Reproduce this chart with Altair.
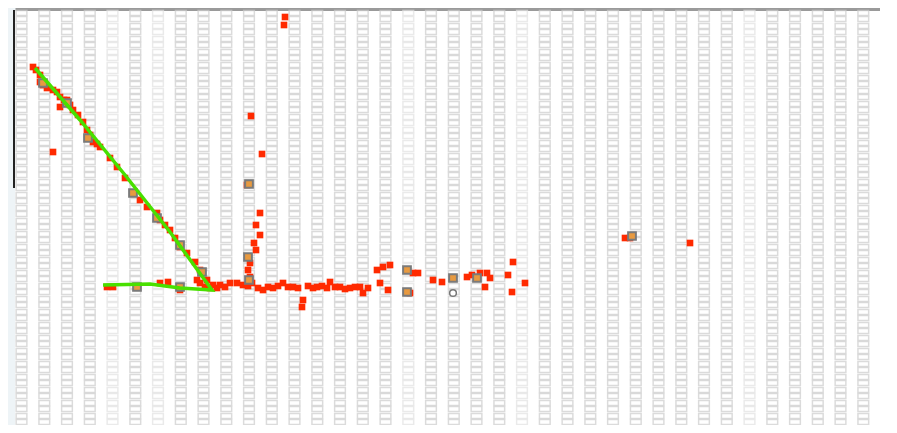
import altair as alt
import pandas as pd

# background lattice (image-unit positions)
grid_cols = [21.5, 44.3, 67, 89.8, 112.5, 135.3, 158, 180.8, 203.5, 226.3, 249, 271.8,
             294.5, 317.3, 340, 362.8, 385.5, 408.3, 431, 453.8, 476.5, 499.3, 522, 544.8,
             567.5, 590.3, 613, 635.8, 658.5, 681.3, 704, 726.8, 749.5, 772.3, 795, 817.8,
             840.5, 863.3]
col_tone = ["d", "d", "d", "d", "l", "d", "l", "d", "d", "d", "d", "d",
            "d", "d", "d", "d", "d", "l", "d", "d", "d", "d", "l", "d",
            "d", "d", "d", "d", "d", "d", "d", "d", "l", "d", "d", "d",
            "d", "d"]
grid_rows = [13, 19, 26, 32, 39, 45, 52, 58, 65, 71, 78, 84, 91, 97, 104, 110, 117, 123,
             130, 136, 143, 149, 156, 162, 169, 175, 182, 188, 195, 201, 208, 214, 221,
             227, 234, 240, 247, 253, 260, 266, 273, 279, 286, 292, 299, 305, 312, 318,
             325, 331, 338, 344, 351, 357, 364, 370, 377, 383, 390, 396, 403, 409, 416, 422]

red_x = [33, 36, 40, 40, 43, 47, 53, 57, 60, 60, 64, 67, 70, 73, 78, 83, 87, 90, 93, 97, 100,
         53, 110, 117, 125, 133, 140, 147, 157, 160, 165, 170, 175, 180, 187, 195, 200, 207,
         107, 113, 137, 160, 168, 180, 197, 200, 205, 210, 213, 217, 220, 225, 230, 237, 243, 248,
         285, 284, 251, 262, 247, 260, 256, 260, 254, 256, 250, 248, 250, 252,
         258, 263, 268, 273, 278, 283, 288, 293, 298, 303, 302, 308, 313, 317, 322, 327, 330,
         335, 340, 345, 350, 355, 360, 363, 368, 377, 383, 390, 380, 388, 413, 418, 410, 433,
         442, 467, 472, 480, 487, 485, 490, 508, 513, 512, 525,
         625, 630, 690]
red_y = [67, 70, 75, 82, 85, 88, 90, 92, 97, 107, 100, 100, 105, 110, 115, 122, 130, 135, 142, 144, 147,
         152, 158, 167, 178, 193, 200, 207, 213, 220, 225, 230, 238, 247, 253, 262, 270, 280,
         287, 287, 287, 283, 282, 290, 280, 283, 287, 288, 285, 288, 285, 287, 283, 283, 285, 286,
         17, 25, 116, 154, 185, 213, 225, 235, 243, 250, 263, 270, 277, 283,
         288, 290, 287, 288, 286, 283, 287, 287, 288, 300, 307, 286, 288, 287, 286, 288, 282,
         287, 287, 289, 288, 287, 287, 293, 288, 270, 267, 265, 283, 290, 273, 273, 293, 280,
         282, 277, 275, 273, 273, 287, 278, 275, 262, 292, 283,
         238, 238, 243]

hl_x = [43, 67, 88, 133, 157, 180, 202, 137, 180, 249, 248, 249, 407, 453, 477, 632, 407]
hl_y = [83, 103, 138, 193, 218, 245, 272, 287, 287, 184, 257, 280, 270, 278, 278, 236, 292]

ring_x = [453]
ring_y = [293]

green_x = [35, 80, 125, 170, 212, 180, 150, 103]
green_y = [68, 120, 175, 232, 290, 288, 284, 285]

axis_ticks = [97, 290, 437, 783]
left_axis_x = [14]
left_axis_y = [10, 188]

X_DOM = [15, 880]
Y_DOM = [9, 425]

grid_df = pd.DataFrame(
    [{"x": cx, "y": ry, "tone": t} for cx, t in zip(grid_cols, col_tone) for ry in grid_rows]
)
red_df = pd.DataFrame({"x": red_x, "y": red_y})
hl_df = pd.DataFrame({"x": hl_x, "y": hl_y})
ring_df = pd.DataFrame({"x": ring_x, "y": ring_y})
green_df = pd.DataFrame({"x": green_x, "y": green_y, "o": list(range(len(green_x)))})
laxis_df = pd.DataFrame({"x": left_axis_x * 2, "y": left_axis_y})

xs = alt.Scale(domain=X_DOM, nice=False, zero=False)
ys = alt.Scale(domain=Y_DOM, nice=False, zero=False, reverse=True)

xaxis = alt.Axis(orient="top", values=axis_ticks, labels=False, title=None, grid=False,
                 domainColor="#9a9a9a", domainWidth=3, tickColor="#333333", tickSize=3,
                 tickWidth=2)

grid = alt.Chart(grid_df).mark_point(
    shape="M-1,-0.45L1,-0.45L1,0.45L-1,0.45Z", size=115, filled=False, strokeWidth=1.5
).encode(
    x=alt.X("x:Q", scale=xs, axis=xaxis),
    y=alt.Y("y:Q", scale=ys, axis=None),
    stroke=alt.Stroke("tone:N", scale=alt.Scale(domain=["d", "l"], range=["#cdcdcd", "#e2e2e2"]),
                      legend=None),
)

laxis = alt.Chart(laxis_df).mark_line(color="#222222", strokeWidth=2, clip=False).encode(
    x=alt.X("x:Q", scale=xs), y=alt.Y("y:Q", scale=ys)
)

red = alt.Chart(red_df).mark_square(size=44, color="#ff2a00", opacity=1).encode(
    x=alt.X("x:Q", scale=xs), y=alt.Y("y:Q", scale=ys)
)

hl = alt.Chart(hl_df).mark_square(size=60, fill="#e89a40", stroke="#7a7a7a",
                                   strokeWidth=2, opacity=1).encode(
    x=alt.X("x:Q", scale=xs), y=alt.Y("y:Q", scale=ys)
)

ring = alt.Chart(ring_df).mark_circle(size=45, fill="white", stroke="#777777",
                                       strokeWidth=1.5, opacity=1).encode(
    x=alt.X("x:Q", scale=xs), y=alt.Y("y:Q", scale=ys)
)

green = alt.Chart(green_df).mark_line(color="#48e000", strokeWidth=3.5).encode(
    x=alt.X("x:Q", scale=xs), y=alt.Y("y:Q", scale=ys), order="o:Q"
)

chart = alt.layer(grid, laxis, red, hl, ring, green).properties(
    width=865, height=416, background="#eef4f7",
    padding={"left": 7, "top": 1, "right": 0, "bottom": 0},
    autosize=alt.AutoSizeParams(type="none"),
).configure_view(stroke=None, fill="white")

chart.save("out.html", embed_options={"renderer": "svg", "actions": False})
